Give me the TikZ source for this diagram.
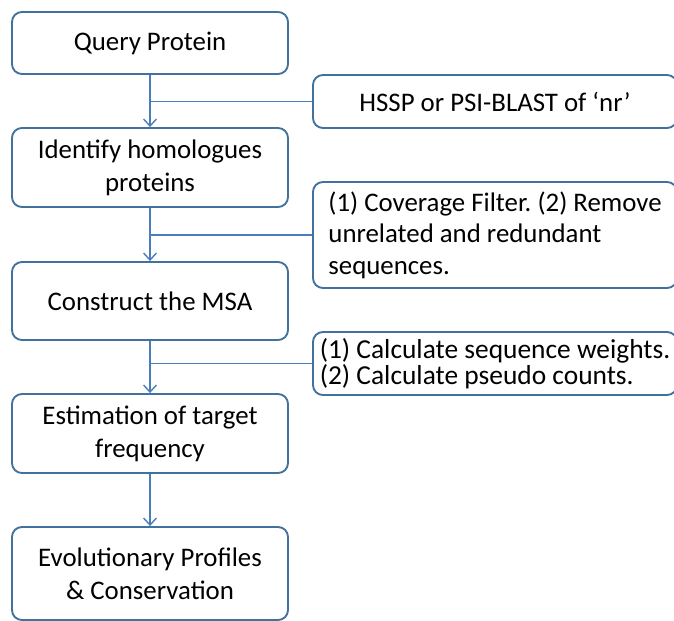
\documentclass[tikz,border=0pt]{standalone}
\usepackage{fontspec}
\setmainfont{Carlito}
\frenchspacing
\usetikzlibrary{arrows.meta}
\definecolor{boxline}{HTML}{41719C}
\definecolor{linkline}{HTML}{4A7EBB}
\tikzset{
  % --- main pipeline steps (left column) ---
  stepbox/.style={draw=boxline, line width=1.6pt, rounded corners=8.5pt,
                  align=center, fill=white, minimum width=8.28cm,
                  font=\fontsize{22.9}{28}\selectfont},
  % --- side notes (right column, run off the page edge) ---
  notebox/.style={stepbox, align=left, minimum width=10.92cm,
                  font=\fontsize{22.9}{27}\selectfont},
  % --- connectors ---
  flow/.style={draw=linkline, line width=1.2pt,
               -{Straight Barb[length=6pt,width=11pt]}},
  link/.style={draw=linkline, line width=1.2pt},
}
\begin{document}
\begin{tikzpicture}[x=0.03cm, y=-0.03cm]
  \useasboundingbox (0,0) rectangle (674,621);
  \clip (0,0) rectangle (674,621);

  % --- left column ---
  \node[stepbox, minimum height=1.86cm] (query) at (150,43)    {Query Protein};
  \node[stepbox, minimum height=2.37cm] (ident) at (150,167.5) {Identify homologues\\proteins};
  \node[stepbox, minimum height=2.34cm] (msa)   at (150,301)   {Construct the MSA};
  \node[stepbox, minimum height=2.37cm] (estim) at (150,433.5) {Estimation of target\\frequency};
  \node[stepbox, minimum height=2.79cm] (evol)  at (150,573.5) {Evolutionary Profiles\\\& Conservation};

  % --- right column notes ---
  \node[stepbox, minimum width=10.92cm, minimum height=1.59cm] (hssp) at (495,101.5)
        {HSSP or PSI-BLAST of ‘nr’};
  \node[notebox, minimum height=3.18cm] (filter) at (495,235)
        {(1) Coverage Filter. (2) Remove\\unrelated and redundant\\sequences.};
  \node[notebox, minimum height=1.89cm, font=\fontsize{23.4}{19.5}\selectfont] (weights) at (495,363.5)
        {(1) Calculate sequence weights.\\(2) Calculate pseudo counts.};

  % --- spine ---
  \draw[flow] (query) -- (ident);
  \draw[flow] (ident) -- (msa);
  \draw[flow] (msa)   -- (estim);
  \draw[flow] (estim) -- (evol);

  % --- notes join the spine ---
  \draw[link] (hssp.west)    -- (hssp.west -| query.south);
  \draw[link] (filter.west)  -- (filter.west -| ident.south);
  \draw[link] (weights.west) -- (weights.west -| msa.south);
\end{tikzpicture}
\end{document}
